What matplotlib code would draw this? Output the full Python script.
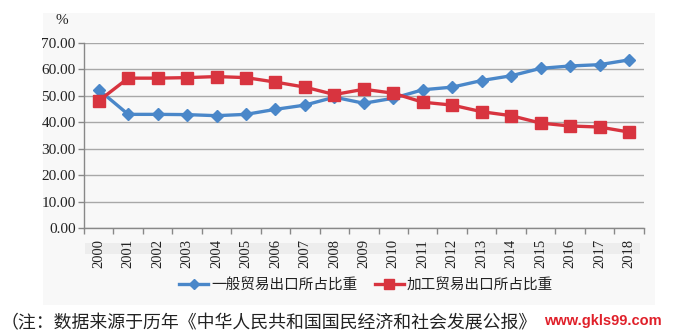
import matplotlib
matplotlib.use("Agg")
import matplotlib.pyplot as plt
from matplotlib.patches import Rectangle
from matplotlib.lines import Line2D

years = [str(y) for y in range(2000, 2019)]
general_trade = [52.3, 43.0, 43.0, 42.9, 42.5, 43.0, 44.9, 46.5, 49.5, 47.2,
                 49.1, 52.3, 53.3, 55.8, 57.6, 60.4, 61.3, 61.8, 63.6]
processing_trade = [48.1, 56.7, 56.7, 56.9, 57.3, 56.9, 55.2, 53.3, 50.5, 52.5,
                    51.0, 47.6, 46.5, 44.0, 42.5, 39.7, 38.6, 38.2, 36.3]
series_names = ["一般贸易出口所占比重", "加工贸易出口所占比重"]
y_ticks = [0, 10, 20, 30, 40, 50, 60, 70]
note = "（注：数据来源于历年《中华人民共和国国民经济和社会发展公报》"
watermark = "www.gkls99.com"

W, H = 674, 333
fig = plt.figure(figsize=(W / 100, H / 100), dpi=100)
fig.patch.set_facecolor("white")

# light chart background
fig.patches.append(Rectangle((43 / W, 1 - 305 / H), (655 - 43) / W, (305 - 13) / H,
                             transform=fig.transFigure, facecolor="#f8f8f8",
                             edgecolor="none", zorder=-10))
# faint band behind year labels
fig.patches.append(Rectangle((85 / W, 1 - 254 / H), (640 - 85) / W, 11 / H,
                             transform=fig.transFigure, facecolor="#ededed",
                             edgecolor="none", zorder=-9))

ax = fig.add_axes([84 / W, 1 - 228 / H, (643.7 - 84) / W, (228 - 43) / H])
ax.set_facecolor("none")
ax.set_zorder(1)

x = list(range(len(years)))
blue = "#4a87c9"
red = "#d8343f"
ax.plot(x, general_trade, color=blue, lw=2.4, marker="D", ms=6,
        mec=blue, mfc=blue, zorder=3, clip_on=False)
ax.plot(x, processing_trade, color=red, lw=2.4, marker="s", ms=8,
        mec=red, mfc=red, zorder=4, clip_on=False)

ax.set_xlim(-0.5, len(years) - 0.5)
ax.set_ylim(0, 70)
ax.set_yticks(y_ticks)
ax.set_yticklabels([f"{v:.2f}" for v in y_ticks], family="Liberation Serif",
                   fontsize=11, color="#222222")
ax.yaxis.grid(True, color="#a8a8a8", lw=1.0)
ax.set_axisbelow(True)

ax.set_xticks(x)
ax.set_xticklabels(years, rotation=90, family="Liberation Serif", fontsize=10.5,
                   color="#222222")
ax.tick_params(axis="x", length=0, pad=8)
ax.set_xticks([i - 0.5 for i in range(len(years) + 1)], minor=True)
ax.tick_params(axis="x", which="minor", length=4, color="#888888", width=1)
ax.tick_params(axis="y", length=4, color="#888888", width=1, pad=2)

for s in ["top", "right"]:
    ax.spines[s].set_visible(False)
ax.spines["left"].set_color("#888888")
ax.spines["bottom"].set_color("#888888")
ax.spines["left"].set_linewidth(1)
ax.spines["bottom"].set_linewidth(1)

fig.text(62 / W, 1 - 20 / H, "%", family="Liberation Serif", fontsize=11,
         ha="center", va="center", color="#222222")

handles = [Line2D([], [], color=blue, lw=2.4, marker="D", ms=5),
           Line2D([], [], color=red, lw=2.4, marker="s", ms=6.5)]
leg = fig.legend(handles, series_names, loc="center", bbox_to_anchor=(366 / W, 1 - 285 / H),
                 ncol=2, frameon=False, handlelength=2.0, handletextpad=0.2,
                 columnspacing=1.2, prop={"family": ["Noto Sans CJK SC"], "size": 10.5})
for t in leg.get_texts():
    t.set_color("#222222")

fig.text(1 / W, 1 - 323 / H, note, family=["Noto Sans CJK SC"], fontsize=12.9,
         ha="left", va="center", color="#222222")
fig.text(544 / W, 1 - 321 / H, watermark, family="Liberation Sans", fontsize=10.5,
         fontweight="bold", color="#e0202a", ha="left", va="center")

fig.savefig("out.png", dpi=100, facecolor="white")
